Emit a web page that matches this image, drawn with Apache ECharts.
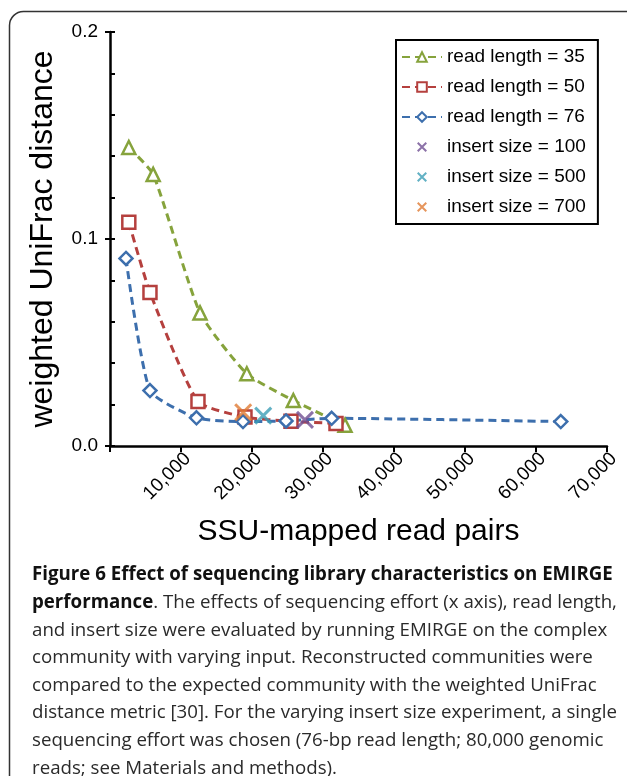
<!DOCTYPE html>
<html>
<head>
<meta charset="utf-8">
<script src="https://cdn.jsdelivr.net/npm/echarts@6/dist/echarts.min.js"></script>
<style>
html, body { margin: 0; padding: 0; background: #fff; }
#chart { width: 627px; height: 776px; }
</style>
</head>
<body>
<div id="chart"></div>
<script>
// read length series (x = SSU-mapped read pairs, y = weighted UniFrac distance)
const len35X = [2650, 6080, 12680, 19270, 25820, 33100]
const len35Y = [0.1442, 0.1312, 0.0643, 0.0349, 0.0220, 0.0100]
const len50X = [2650, 5630, 12390, 19010, 25490, 31830]
const len50Y = [0.1081, 0.0742, 0.0215, 0.0140, 0.0119, 0.0109]
const len76X = [2250, 5630, 12180, 18730, 24790, 31220, 63490]
const len76Y = [0.0906, 0.0268, 0.0136, 0.0118, 0.0121, 0.0134, 0.0118]
// insert size points
const ins100 = [27460, 0.0126]
const ins500 = [21580, 0.0147]
const ins700 = [18760, 0.0163]

const seriesNames = ['read length = 35', 'read length = 50', 'read length = 76',
  'insert size = 100', 'insert size = 500', 'insert size = 700']

const captionLines = [
  '{b|Figure 6 Effect of sequencing library characteristics on EMIRGE}',
  '{b|performance}. The effects of sequencing effort (x axis), read length,',
  'and insert size were evaluated by running EMIRGE on the complex',
  'community with varying input. Reconstructed communities were',
  'compared to the expected community with the weighted UniFrac',
  'distance metric [30]. For the varying insert size experiment, a single',
  'sequencing effort was chosen (76-bp read length; 80,000 genomic',
  'reads; see Materials and methods).'
]

const zip = (xs, ys) => xs.map((x, i) => [x, ys[i]])
const fmtThousands = v => String(v).replace(/\B(?=(\d{3})+(?!\d))/g, ',')

const cross = 'path://M0,0L10,10M10,0L0,10'
const crossSmall = 'path://M-2,-2M12,12M0,0L10,10M10,0L0,10'

function lineSeries (name, data, symbol, size, color) {
  return {
    name: name,
    type: 'line',
    data: data,
    smooth: 0.18,
    symbol: symbol,
    symbolSize: size,
    itemStyle: { color: '#fff', borderColor: color, borderWidth: 2.5 },
    lineStyle: { color: color, width: 3, type: [8, 5] },
    z: 2
  }
}

function crossSeries (name, point, color) {
  return {
    name: name,
    type: 'scatter',
    data: [point],
    symbol: cross,
    symbolSize: 16,
    itemStyle: { color: 'rgba(0,0,0,0)', borderColor: color, borderWidth: 3 },
    z: 3
  }
}

const myChart = echarts.init(document.getElementById('chart'))

const captionGraphics = captionLines.map((t, i) => ({
  type: 'text',
  x: 32,
  y: 575 + i * 27.6,
  silent: true,
  style: {
    text: t,
    fontSize: 18.7,
    fontFamily: 'Open Sans',
    fill: '#2a2a2a',
    verticalAlign: 'middle',
    rich: {
      b: { fontSize: 18.7, fontFamily: 'Open Sans', fontWeight: 'bold', fill: '#111' }
    }
  }
}))

const option = {
  backgroundColor: '#fff',
  animation: false,
  grid: { left: 110, top: 32, right: 20, bottom: 330 },
  legend: {
    orient: 'vertical',
    left: 396,
    top: 40,
    backgroundColor: '#fff',
    borderColor: '#000',
    borderWidth: 2,
    borderRadius: 0,
    padding: [7, 12, 7, 5],
    itemWidth: 40,
    itemHeight: 12,
    itemGap: 10,
    selectedMode: false,
    textStyle: { fontSize: 19, color: '#000', fontFamily: 'Liberation Sans', lineHeight: 20 },
    data: [
      seriesNames[0], seriesNames[1], seriesNames[2],
      { name: seriesNames[3], icon: crossSmall },
      { name: seriesNames[4], icon: crossSmall },
      { name: seriesNames[5], icon: crossSmall }
    ]
  },
  xAxis: {
    type: 'value',
    min: 0,
    max: 70000,
    interval: 10000,
    name: 'SSU-mapped read pairs',
    nameLocation: 'middle',
    nameGap: 71,
    nameTextStyle: { fontSize: 30, color: '#000', fontFamily: 'Liberation Sans' },
    axisLine: { lineStyle: { color: '#000', width: 2.5 } },
    axisTick: { length: 6, lineStyle: { color: '#000', width: 2 } },
    axisLabel: {
      rotate: 45,
      margin: 3,
      fontSize: 19,
      color: '#000',
      fontFamily: 'Liberation Sans',
      verticalAlign: 'top',
      formatter: v => (v === 0 ? '' : fmtThousands(v))
    },
    splitLine: { show: false }
  },
  yAxis: [
    {
      type: 'value',
      min: 0,
      max: 0.2,
      interval: 0.02,
      name: 'weighted UniFrac distance',
      nameLocation: 'middle',
      nameGap: 51,
      nameTextStyle: { fontSize: 32, color: '#000', fontFamily: 'Liberation Sans' },
      axisLine: { lineStyle: { color: '#000', width: 2.5 } },
      axisTick: { inside: true, length: 5, lineStyle: { color: '#000', width: 2 } },
      axisLabel: {
        margin: 12,
        fontSize: 19,
        color: '#000',
        fontFamily: 'Liberation Sans',
        formatter: v => (Math.abs(v * 10 - Math.round(v * 10)) < 1e-6 ? v.toFixed(1) : '')
      },
      splitLine: { show: false }
    },
    {
      type: 'value',
      min: 0,
      max: 0.2,
      interval: 0.1,
      position: 'left',
      axisLine: { show: false },
      axisTick: { length: 5, lineStyle: { color: '#000', width: 2 } },
      axisLabel: { show: false },
      splitLine: { show: false }
    }
  ],
  graphic: [
    {
      type: 'rect',
      silent: true,
      z: -10,
      shape: { x: 9.5, y: 11.5, width: 700, height: 900, r: 14 },
      style: { fill: 'none', stroke: '#333', lineWidth: 1.5 }
    }
  ].concat(captionGraphics),
  series: [
    lineSeries(seriesNames[0], zip(len35X, len35Y), 'triangle', 13, '#86a33c'),
    lineSeries(seriesNames[1], zip(len50X, len50Y), 'rect', 13, '#b5403e'),
    lineSeries(seriesNames[2], zip(len76X, len76Y), 'diamond', 13, '#3d6fad'),
    crossSeries(seriesNames[3], ins100, '#6f4f92'),
    crossSeries(seriesNames[4], ins500, '#3b9db5'),
    crossSeries(seriesNames[5], ins700, '#e07a33')
  ]
}

option && myChart.setOption(option)
</script>
</body>
</html>
